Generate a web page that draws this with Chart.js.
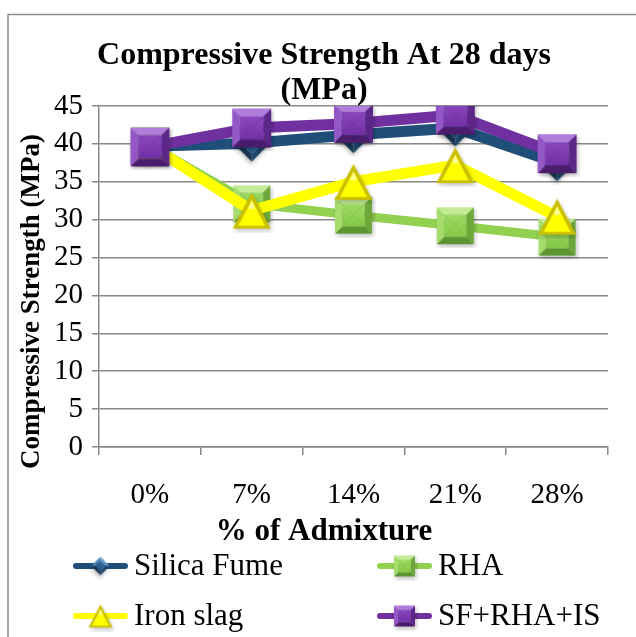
<!DOCTYPE html>
<html>
<head>
<meta charset="utf-8">
<title>Compressive Strength At 28 days</title>
<script src="https://cdn.jsdelivr.net/npm/chart.js@4.4.1/dist/chart.umd.min.js"></script>
<style>
  html, body { margin: 0; padding: 0; background: #fff; }
  canvas { display: block; }
</style>
</head>
<body>
<canvas id="strengthChart" width="636" height="637"></canvas>
<script>
const admixture = ['0%', '7%', '14%', '21%', '28%']
const silicaFume = [39.7, 40.1, 41.2, 42.1, 37.5]
const rha = [39.8, 32.1, 30.6, 29.2, 27.7]
const ironSlag = [39.8, 31.2, 35.0, 37.2, 30.4]
const sfRhaIs = [39.6, 42.1, 42.7, 43.8, 38.7]
const yTicks = { min: 0, max: 45, step: 5 }

const titleLines = ['Compressive Strength At 28 days', '(MPa)']
const xTitle = '% of Admixture'
const yTitle = 'Compressive Strength (MPa)'

const serif = "'Liberation Serif', 'Times New Roman', serif"

// little bevelled marker bitmaps, like the office-style 3D markers
function quad(g, pts, color) {
    g.beginPath()
    g.moveTo(pts[0][0], pts[0][1])
    for (let i = 1; i < pts.length; i++) g.lineTo(pts[i][0], pts[i][1])
    g.closePath()
    g.fillStyle = color
    g.fill()
}

function bevelSquare(side, c, rotate) {
    const pad = 4
    const box = Math.ceil(rotate ? side * Math.SQRT2 : side) + pad * 2
    const cv = document.createElement('canvas')
    cv.width = cv.height = box
    const g = cv.getContext('2d')
    g.translate(box / 2, box / 2)
    if (rotate) g.rotate(Math.PI / 4)
    g.translate(-side / 2, -side / 2)
    const b = side * 0.2
    g.save()
    g.filter = 'blur(2px)'
    g.fillStyle = 'rgba(0,0,0,0.25)'
    g.fillRect(1.5, 2.5, side, side)
    g.restore()
    quad(g, [[0, 0], [side, 0], [side - b, b], [b, b]], c.light)
    quad(g, [[side, 0], [side, side], [side - b, side - b], [side - b, b]], c.sideDark)
    quad(g, [[0, side], [side, side], [side - b, side - b], [b, side - b]], c.dark)
    quad(g, [[0, 0], [b, b], [b, side - b], [0, side]], c.sideLight)
    const grad = g.createLinearGradient(0, b, 0, side - b)
    grad.addColorStop(0, c.top)
    grad.addColorStop(1, c.base)
    g.fillStyle = grad
    g.fillRect(b, b, side - 2 * b, side - 2 * b)
    g.strokeStyle = c.sideDark
    g.globalAlpha = 0.35
    g.lineWidth = 1
    g.beginPath()
    g.moveTo(b, b); g.lineTo(side - b, side - b)
    g.moveTo(side - b, b); g.lineTo(b, side - b)
    g.stroke()
    return cv
}

function bevelTriangle(w, h, c) {
    const pad = 4
    const cv = document.createElement('canvas')
    cv.width = Math.ceil(w) + pad * 2
    cv.height = Math.ceil(h) + pad * 2
    const g = cv.getContext('2d')
    g.translate(pad, pad)
    g.save()
    g.filter = 'blur(2px)'
    quad(g, [[w / 2 + 1.5, 2.5], [w + 1.5, h + 2.5], [1.5, h + 2.5]], 'rgba(0,0,0,0.22)')
    g.restore()
    quad(g, [[w / 2, 0], [w, h], [0, h]], c.dark)
    const i = w * 0.09
    quad(g, [[w / 2, i * 2.2], [w - i * 1.6, h - i * 0.8], [i * 1.6, h - i * 0.8]], c.base)
    quad(g, [[w / 2, i * 2.2], [w / 2 + i, h * 0.45], [w / 2 - i, h * 0.45]], c.light)
    return cv
}

const purpleC = { base: '#7431a6', top: '#8a48bf', light: '#b07ddb', dark: '#4a1d6c', sideLight: '#9457c6', sideDark: '#5d2689' }
const greenC = { base: '#86c947', top: '#9ddb63', light: '#c4ec97', dark: '#5b9530', sideLight: '#a5dc6c', sideDark: '#6ca83a' }
const blueC = { base: '#25588a', top: '#3a71a5', light: '#6d9cc8', dark: '#15344f', sideLight: '#4b82b5', sideDark: '#1c4569' }
const yellowC = { base: '#ffff00', light: '#ffff9a', dark: '#c9bf00' }

const markers = {
    sf: bevelSquare(26, blueC, true),
    rha: bevelSquare(37, greenC, false),
    is: bevelTriangle(38, 36, yellowC),
    mix: bevelSquare(39, purpleC, false)
}
const legendMarkers = {
    sf: bevelSquare(13, blueC, true),
    rha: bevelSquare(21, greenC, false),
    is: bevelTriangle(24, 23, yellowC),
    mix: bevelSquare(21, purpleC, false)
}

function series(label, data, color, width, key, order) {
    return {
        label: label,
        data: data,
        borderColor: color,
        backgroundColor: color,
        borderWidth: width,
        borderJoinStyle: 'round',
        borderCapStyle: 'round',
        tension: 0,
        pointStyle: markers[key],
        legendMarker: legendMarkers[key],
        order: order
    }
}

// frame, titles and the two-column legend, centred on the frame
const chrome = {
    id: 'chrome',
    beforeDraw(chart) {
        const g = chart.ctx
        g.save()
        g.strokeStyle = '#8c8c8c'
        g.lineWidth = 1.5
        g.strokeRect(8, 14.5, chart.width + 20, chart.height + 20)
        g.restore()
    },
    afterDraw(chart) {
        const g = chart.ctx
        const area = chart.chartArea
        const midX = 324
        g.save()
        g.fillStyle = '#000'
        g.textAlign = 'center'
        g.textBaseline = 'alphabetic'
        g.font = 'bold 32px ' + serif
        g.fillText(titleLines[0], midX, 64)
        g.fillText(titleLines[1], midX, 99)

        g.font = 'bold 31px ' + serif
        g.fillText(xTitle, midX, area.bottom + 93)

        g.font = 'bold 27px ' + serif
        g.textBaseline = 'middle'
        g.translate(32, (area.top + area.bottom) / 2 + 25)
        g.rotate(-Math.PI / 2)
        g.fillText(yTitle, 0, 0)
        g.restore()

        const cols = [73, 377]
        const rows = [area.bottom + 119, area.bottom + 169]
        const sample = 55
        g.save()
        g.font = '31px ' + serif
        g.textBaseline = 'middle'
        g.fillStyle = '#000'
        chart.data.datasets.forEach((ds, i) => {
            const x = cols[i % 2]
            const y = rows[Math.floor(i / 2)]
            g.strokeStyle = ds.borderColor
            g.lineWidth = 6
            g.lineCap = 'round'
            g.beginPath()
            g.moveTo(x + 3, y)
            g.lineTo(x + sample - 3, y)
            g.stroke()
            const m = ds.legendMarker
            g.drawImage(m, x + sample / 2 - m.width / 2, y - m.height / 2)
            g.fillText(ds.label, x + sample + 6, y + 1)
        })
        g.restore()
    }
}

const ctx = document.getElementById('strengthChart').getContext('2d')

new Chart(ctx, {
    type: 'line',
    data: {
        labels: admixture,
        datasets: [
            series('Silica Fume', silicaFume, '#1f4e79', 11, 'sf', 4),
            series('RHA', rha, '#92d050', 9, 'rha', 3),
            series('Iron slag', ironSlag, '#ffff00', 11, 'is', 2),
            series('SF+RHA+IS', sfRhaIs, '#7030a0', 11, 'mix', 1)
        ]
    },
    options: {
        responsive: false,
        animation: false,
        layout: {
            padding: { left: 0, right: 28, top: 106, bottom: 90 }
        },
        plugins: {
            legend: { display: false },
            tooltip: { enabled: false },
            title: { display: false }
        },
        scales: {
            x: {
                offset: true,
                grid: { display: true, offset: true, drawOnChartArea: false, color: '#888', lineWidth: 1.5, tickLength: 8 },
                border: { color: '#888', width: 1.5 },
                ticks: { color: '#000', font: { family: serif, size: 29 }, padding: 23 },
                afterFit: s => { s.height = 100 }
            },
            y: {
                min: yTicks.min,
                max: yTicks.max,
                grid: { color: '#888', lineWidth: 1.5, tickLength: 7 },
                border: { color: '#888', width: 1.5 },
                ticks: { stepSize: yTicks.step, color: '#000', font: { family: serif, size: 29 }, padding: 9 },
                afterFit: s => { s.width = 99 }
            }
        }
    },
    plugins: [chrome]
})
</script>
</body>
</html>
